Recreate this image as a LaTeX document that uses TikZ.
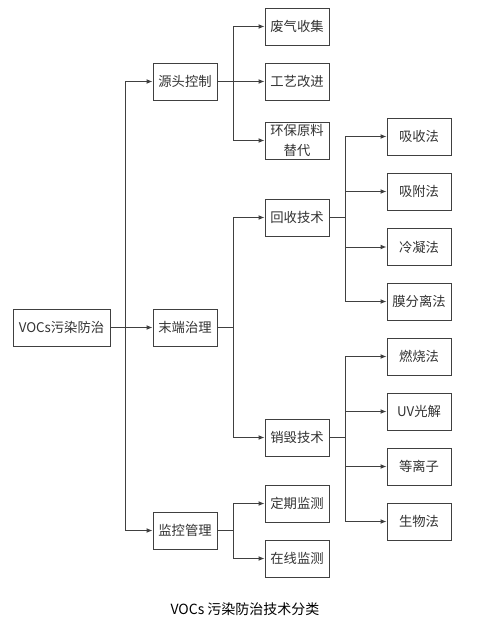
\documentclass[tikz,border=0pt]{standalone}
\usepackage{fontspec}
\newfontfamily\cjk{Noto Sans CJK SC}
\usetikzlibrary{arrows.meta}
\begin{document}
\begin{tikzpicture}[x=0.75pt,y=-0.75pt,
  box/.style={draw=black!75, line width=0.7pt, minimum width=48pt, minimum height=27.75pt, inner sep=0pt,
    font=\cjk\fontsize{10pt}{14.5pt}\selectfont, text=black!80},
  conn/.style={draw=black!75, line width=0.7pt},
  arr/.style={conn, -{Latex[length=4.5pt,width=3.6pt]}}]
\useasboundingbox[fill=white] (0,0) rectangle (478,620);
% level 0 and 1
\node[box, minimum width=72.75pt] (root) at (61.5,327.5) {VOCs污染防治};
\node[box] (src) at (185,81.5) {源头控制};
\node[box] (end) at (185,327.5) {末端治理};
\node[box] (mon) at (185,530.5) {监控管理};
% level 2
\node[box] (fq) at (297,26.5) {废气收集};
\node[box] (gy) at (297,81.5) {工艺改进};
\node[box, align=center] (hb) at (297,140.5) {环保原料\\替代};
\node[box] (hs) at (297,217.5) {回收技术};
\node[box] (xh) at (297,437.5) {销毁技术};
\node[box] (dq) at (297,503.5) {定期监测};
\node[box] (zx) at (297,558.5) {在线监测};
% level 3
\node[box] (a1) at (419,136.5) {吸收法};
\node[box] (a2) at (419,191.5) {吸附法};
\node[box] (a3) at (419,247) {冷凝法};
\node[box] (a4) at (419,301.5) {膜分离法};
\node[box] (b1) at (419,356.5) {燃烧法};
\node[box] (b2) at (419,411.5) {UV光解};
\node[box] (b3) at (419,466.5) {等离子};
\node[box] (b4) at (419,521.5) {生物法};
% caption
\node[font=\cjk\fontsize{10.5pt}{12pt}\selectfont, text=black] (cap) at (245,609) {VOCs 污染防治技术分类};
% junctions
\coordinate (t0) at (125,327.5);
\coordinate (j1) at (233,81.5);
\coordinate (j2) at (233,327.5);
\coordinate (j3) at (233,530.5);
\coordinate (k1) at (345,217.5);
\coordinate (k2) at (345,437.5);
% connectors
\draw[arr] (root) -- (end);
\draw[arr] (t0) |- (src.west);
\draw[arr] (t0) |- (mon.west);
\draw[conn] (src) -- (j1);
\draw[arr] (j1) |- (fq.west);
\draw[arr] (j1) -- (gy);
\draw[arr] (j1) |- (hb.west);
\draw[conn] (end) -- (j2);
\draw[arr] (j2) |- (hs.west);
\draw[arr] (j2) |- (xh.west);
\draw[conn] (mon) -- (j3);
\draw[arr] (j3) |- (dq.west);
\draw[arr] (j3) |- (zx.west);
\draw[conn] (hs) -- (k1);
\draw[arr] (k1) |- (a1.west);
\draw[arr] (k1) |- (a2.west);
\draw[arr] (k1) |- (a3.west);
\draw[arr] (k1) |- (a4.west);
\draw[conn] (xh) -- (k2);
\draw[arr] (k2) |- (b1.west);
\draw[arr] (k2) |- (b2.west);
\draw[arr] (k2) |- (b3.west);
\draw[arr] (k2) |- (b4.west);
\end{tikzpicture}
\end{document}
